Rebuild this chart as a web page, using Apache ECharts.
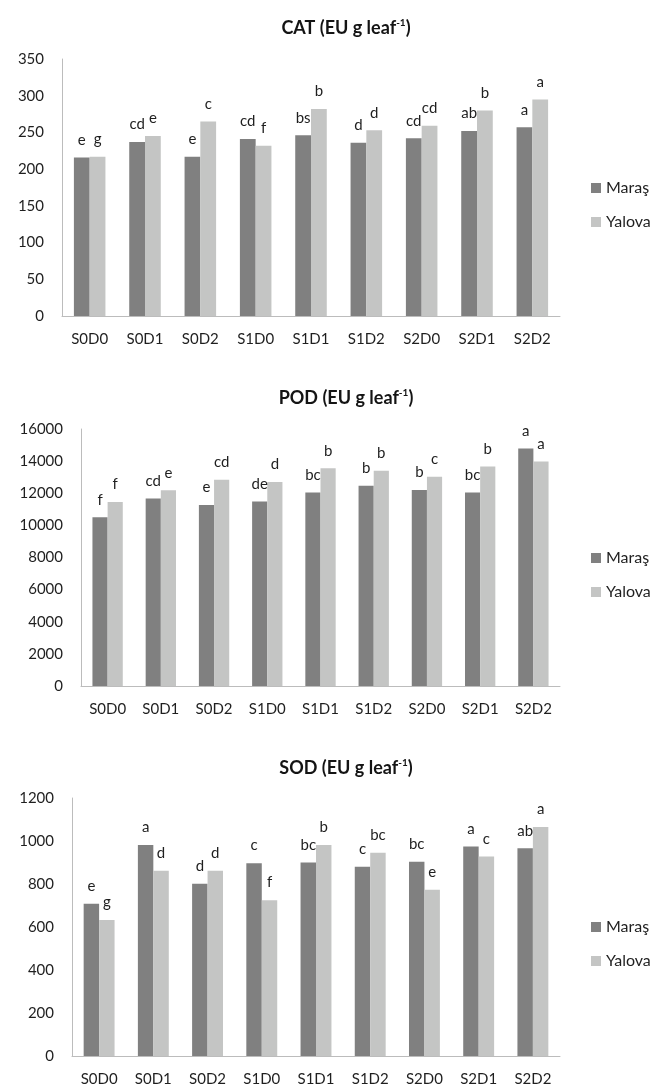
<!DOCTYPE html>
<html>
<head>
<meta charset="utf-8">
<style>
  html, body { margin: 0; padding: 0; background: #ffffff; }
  #chart { width: 664px; height: 1087px; }
</style>
<script src="https://cdn.jsdelivr.net/npm/echarts@6/dist/echarts.min.js"></script>
</head>
<body>
<div id="chart"></div>
<script>
// Treatment combinations (salt level S x drought level D)
const categories = ['S0D0', 'S0D1', 'S0D2', 'S1D0', 'S1D1', 'S1D2', 'S2D0', 'S2D1', 'S2D2'];
const seriesNames = ['Maraş', 'Yalova'];

// CAT activity
const catMaras = [216, 237, 217, 241, 246, 236, 242, 252, 257];
const catYalova = [217, 245, 265, 232, 282, 253, 259, 280, 295];
const catMarasLetters = ['e', 'cd', 'e', 'cd', 'bs', 'd', 'cd', 'ab', 'a'];
const catYalovaLetters = ['g', 'e', 'c', 'f', 'b', 'd', 'cd', 'b', 'a'];

// POD activity
const podMaras = [10500, 11680, 11270, 11490, 12050, 12470, 12200, 12050, 14780];
const podYalova = [11450, 12180, 12840, 12700, 13550, 13400, 13030, 13670, 13980];
const podMarasLetters = ['f', 'cd', 'e', 'de', 'bc', 'b', 'b', 'bc', 'a'];
const podYalovaLetters = ['f', 'e', 'cd', 'd', 'b', 'b', 'c', 'b', 'a'];

// SOD activity
const sodMaras = [708, 981, 801, 897, 900, 880, 903, 975, 966];
const sodYalova = [633, 862, 862, 725, 981, 945, 773, 928, 1065];
const sodMarasLetters = ['e', 'a', 'd', 'c', 'bc', 'c', 'bc', 'a', 'ab'];
const sodYalovaLetters = ['g', 'd', 'd', 'f', 'b', 'bc', 'e', 'c', 'a'];

// Axis ranges
const yRanges = [
  { max: 350, interval: 50 },
  { max: 16000, interval: 2000 },
  { max: 1200, interval: 200 }
];
const panelTitles = ['CAT', 'POD', 'SOD'];

const FONT = 'Lato';
const TEXT = '#1f1f1f';
const AXIS = '#bcbcbc';
const DARK = '#808080';
const LIGHT = '#c4c5c4';

// Panel layout: plot rectangles, title and legend positions
const panels = [
  { left: 62, top: 59, width: 498, height: 257, titleTop: 12, legendTop: 175 },
  { left: 81, top: 429, width: 479, height: 257, titleTop: 382, legendTop: 545 },
  { left: 72, top: 798, width: 488, height: 258, titleTop: 752, legendTop: 914 }
];

const panelData = [
  [[catMaras, catMarasLetters], [catYalova, catYalovaLetters]],
  [[podMaras, podMarasLetters], [podYalova, podYalovaLetters]],
  [[sodMaras, sodMarasLetters], [sodYalova, sodYalovaLetters]]
];

const titles = [], grids = [], xAxes = [], yAxes = [], legends = [], series = [];

panels.forEach((p, k) => {
  titles.push({
    text: '{b|' + panelTitles[k] + ' (EU g leaf}{s|-1}{b|)}',
    left: 341,
    textAlign: 'center',
    top: p.titleTop,
    textStyle: {
      rich: {
        b: { fontFamily: FONT, fontWeight: 'bold', fontSize: 18, color: '#141414', lineHeight: 22 },
        s: { fontFamily: FONT, fontWeight: 'bold', fontSize: 10, color: '#141414', lineHeight: 22, verticalAlign: 'top', padding: [1, 0, 0, 0] }
      }
    }
  });
  grids.push({ left: p.left, top: p.top, width: p.width, height: p.height, containLabel: false });
  xAxes.push({
    type: 'category',
    gridIndex: k,
    data: categories,
    axisLine: { show: true, lineStyle: { color: AXIS, width: 1 } },
    axisTick: { show: false },
    axisLabel: { color: TEXT, fontFamily: FONT, fontSize: 15, margin: 16 },
    splitLine: { show: false }
  });
  yAxes.push({
    type: 'value',
    gridIndex: k,
    min: 0,
    max: yRanges[k].max,
    interval: yRanges[k].interval,
    axisLine: { show: true, lineStyle: { color: AXIS, width: 1 } },
    axisTick: { show: false },
    axisLabel: {
      color: TEXT, fontFamily: FONT, fontSize: 15, margin: 18,
      formatter: (v) => String(v)
    },
    splitLine: { show: false }
  });
  legends.push({
    data: seriesNames,
    orient: 'vertical',
    left: 586,
    top: p.legendTop,
    icon: 'rect',
    itemWidth: 10,
    itemHeight: 10,
    itemGap: 18,
    textStyle: { color: TEXT, fontFamily: FONT, fontSize: 16, lineHeight: 16 },
    selectedMode: false
  });
  panelData[k].forEach(([values, letters], j) => {
    series.push({
      name: seriesNames[j],
      type: 'bar',
      xAxisIndex: k,
      yAxisIndex: k,
      data: values,
      barGap: '0%',
      barCategoryGap: '43%',
      itemStyle: { color: j === 0 ? DARK : LIGHT },
      label: {
        show: true,
        position: 'top',
        distance: 10,
        color: TEXT,
        fontFamily: FONT,
        fontSize: 15,
        formatter: (prm) => letters[prm.dataIndex]
      }
    });
  });
});

const chart = echarts.init(document.getElementById('chart'), null, { renderer: 'canvas' });
chart.setOption({
  backgroundColor: '#ffffff',
  animation: false,
  title: titles,
  grid: grids,
  xAxis: xAxes,
  yAxis: yAxes,
  legend: legends,
  series: series
});
</script>
</body>
</html>
